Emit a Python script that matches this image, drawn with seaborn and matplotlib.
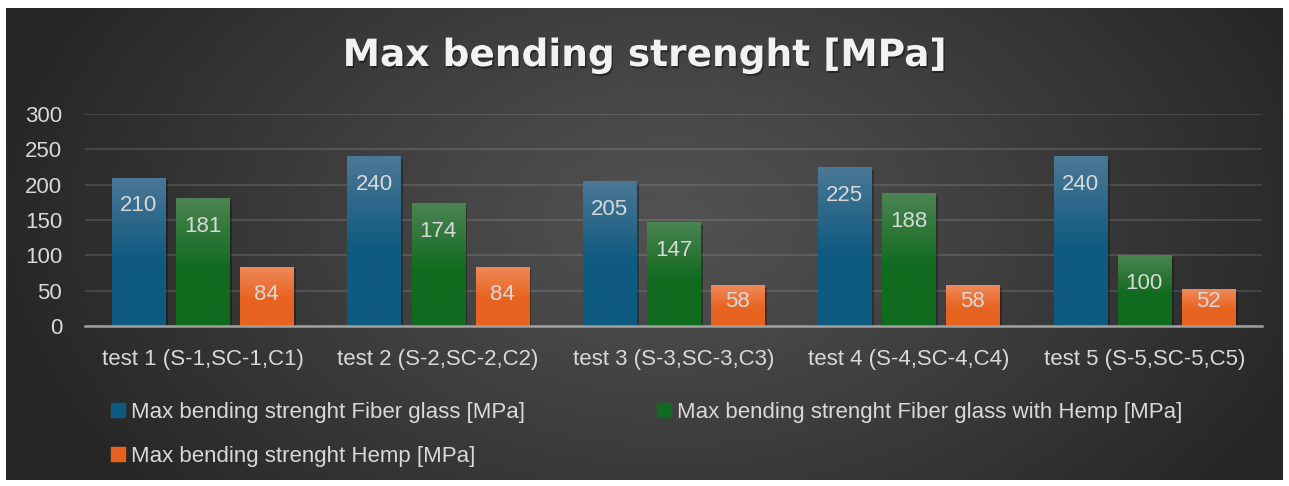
import numpy as np
import pandas as pd
import matplotlib
matplotlib.use("Agg")
import matplotlib.pyplot as plt
import matplotlib.patheffects as pe
from matplotlib.colors import to_rgb
from matplotlib.patches import Rectangle
import seaborn as sns

# ---- data ----
categories = ["test 1 (S-1,SC-1,C1)", "test 2 (S-2,SC-2,C2)", "test 3 (S-3,SC-3,C3)",
              "test 4 (S-4,SC-4,C4)", "test 5 (S-5,SC-5,C5)"]
series_names = ["Max bending strenght Fiber glass [MPa]",
                "Max bending strenght Fiber glass with Hemp [MPa]",
                "Max bending strenght Hemp [MPa]"]
fiber_glass = [210, 240, 205, 225, 240]
fiber_glass_hemp = [181, 174, 147, 188, 100]
hemp = [84, 84, 58, 58, 52]
y_ticks = [0, 50, 100, 150, 200, 250, 300]
title = "Max bending strenght [MPa]"

base_colors = ["#0F5A80", "#116B1F", "#E8631F"]
top_colors = ["#4B7896", "#4B8452", "#EF8A5B"]

df = pd.DataFrame({
    "test": categories * 3,
    "series": [series_names[0]] * 5 + [series_names[1]] * 5 + [series_names[2]] * 5,
    "value": fiber_glass + fiber_glass_hemp + hemp,
})

plt.rcParams["font.family"] = ["Liberation Sans", "DejaVu Sans"]

W, H = 1289, 486
fig = plt.figure(figsize=(W / 100, H / 100), dpi=100)
fig.patch.set_facecolor("white")

# background panel with radial gradient
bg = fig.add_axes([6 / W, 6 / H, 1277 / W, 472 / H])
ny, nx = 200, 500
yy, xx = np.mgrid[0:ny, 0:nx]
cx, cy = nx * 0.52, ny * 0.55
r = np.sqrt(((xx - cx) / (nx * 0.55)) ** 2 + ((yy - cy) / (ny * 0.95)) ** 2)
r = np.clip(r, 0, 1)
c_center, c_edge = 0x52 / 255, 0x25 / 255
val = c_center + (c_edge - c_center) * r ** 1.1
img = np.dstack([val, val, val])
bg.imshow(img, extent=[0, 1, 0, 1], aspect="auto", origin="lower")
bg.set_axis_off()

ax = fig.add_axes([85 / W, 160 / H, 1177 / W, 212 / H])
ax.set_facecolor("none")

sns.barplot(data=df, x="test", y="value", hue="series", hue_order=series_names,
            order=categories, palette=base_colors, width=0.816, gap=0.17,
            saturation=1, ax=ax, legend=False, zorder=3)

# gradient overlays + shadows + labels
for ci, cont in enumerate(ax.containers):
    top = np.array(to_rgb(top_colors[ci]))
    base = np.array(to_rgb(base_colors[ci]))
    t = np.linspace(0, 1, 100)  # 0 bottom, 1 top
    f = np.clip((t - 0.45) / 0.55, 0, 1)[:, None]
    grad = base[None, :] * (1 - f) + top[None, :] * f
    gimg = np.repeat(grad[:, None, :], 2, axis=1)
    for patch in cont.patches:
        patch.set_path_effects([pe.SimplePatchShadow(offset=(2, -2), alpha=0.3, shadow_rgbFace="black"),
                                pe.Normal()])
        x0, y0 = patch.get_x(), patch.get_y()
        w, h = patch.get_width(), patch.get_height()
        im = ax.imshow(gimg, extent=[x0, x0 + w, y0, y0 + h], aspect="auto",
                       origin="lower", zorder=3.5)
        im.set_clip_path(patch)
        v = h
        ax.text(x0 + w / 2, max(v - 40, 35), f"{v:.0f}", ha="center", va="center",
                fontsize=16, color="#D9D9D9", zorder=5)

ax.set_xlim(-0.5, 4.5)
ax.set_ylim(0, 300)
ax.set_aspect("auto")
ax.set_yticks(y_ticks)
ax.yaxis.grid(True, color="white", alpha=0.12, lw=1.5)
ax.xaxis.grid(False)
ax.set_axisbelow(True)
for s in ["top", "left", "right"]:
    ax.spines[s].set_visible(False)
ax.spines["bottom"].set_color("#A0A0A0")
ax.spines["bottom"].set_linewidth(1.8)
ax.spines["bottom"].set_zorder(6)
ax.tick_params(axis="both", length=0, colors="#D9D9D9", labelsize=16)
ax.tick_params(axis="y", pad=16.5)
ax.tick_params(axis="x", pad=16.5)
ax.set_xlabel("")
ax.set_ylabel("")

# title
fig.text(0.5, 1 - 56 / H, title, ha="center", va="center", fontsize=27,
         fontweight="bold", color="#F2F2F2", family="DejaVu Sans",
         path_effects=[pe.withSimplePatchShadow(offset=(1, -1.5), alpha=0.4, shadow_rgbFace="black")])

# legend (row-major order: 1, 2 / 3)
handles = [Rectangle((0, 0), 1, 1, color=c) for c in base_colors]
order = [0, 2, 1]
fig.legend([handles[i] for i in order], [series_names[i] for i in order],
           loc="upper left", bbox_to_anchor=(111 / W, 1 - 402 / H), ncol=2,
           frameon=False, fontsize=16, labelcolor="#D9D9D9", handlelength=0.63,
           handleheight=0.6, handletextpad=0.27, columnspacing=5.93,
           labelspacing=1.04, borderpad=0, borderaxespad=0)

fig.savefig("out.png", dpi=100, facecolor=fig.get_facecolor())
